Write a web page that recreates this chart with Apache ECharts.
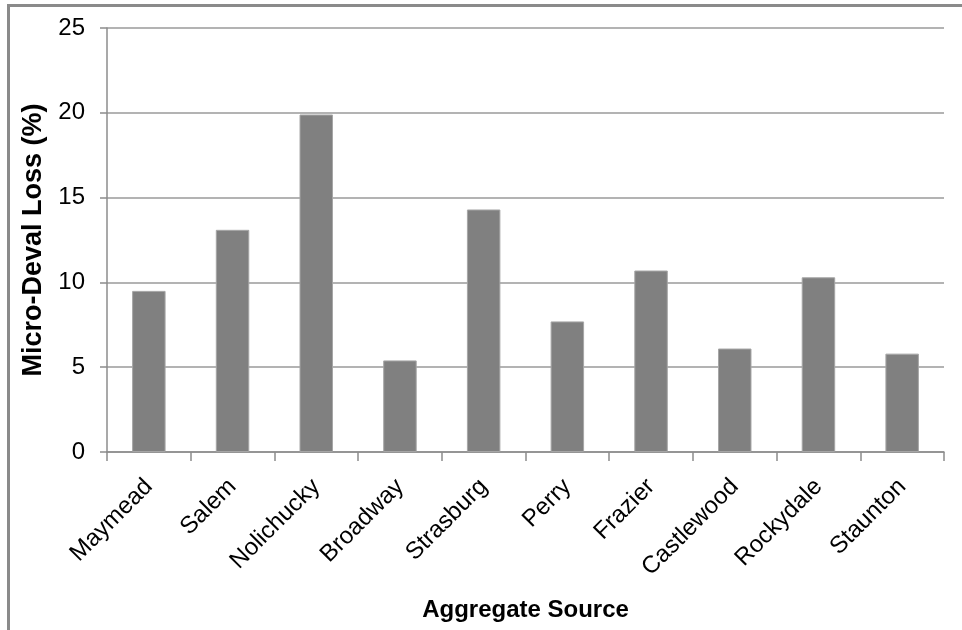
<!DOCTYPE html>
<html>
<head>
<meta charset="utf-8">
<script src="https://cdn.jsdelivr.net/npm/echarts@6/dist/echarts.min.js"></script>
<style>
  html, body { margin: 0; padding: 0; background: #fff; }
  #frame { position: absolute; left: 7px; top: 4px; width: 955px; height: 626px;
           border-left: 3px solid #8a8a8a; border-top: 3px solid #8a8a8a; box-sizing: border-box; }
  #chart { position: absolute; left: 0; top: 0; width: 962px; height: 630px; }
</style>
</head>
<body>
<div id="frame"></div>
<div id="chart"></div>
<script>
// Micro-Deval loss by aggregate source
const sources = ['Maymead', 'Salem', 'Nolichucky', 'Broadway', 'Strasburg',
                 'Perry', 'Frazier', 'Castlewood', 'Rockydale', 'Staunton'];
const lossPct = [9.5, 13.1, 19.9, 5.4, 14.3, 7.7, 10.7, 6.1, 10.3, 5.8];
const yTicks = [0, 5, 10, 15, 20, 25];

const chart = echarts.init(document.getElementById('chart'), null, { renderer: 'canvas' });
const font = 'Liberation Sans, Arial, sans-serif';

chart.setOption({
  animation: false,
  backgroundColor: 'transparent',
  grid: { left: 107, right: 18, top: 28, bottom: 178, containLabel: false },
  xAxis: {
    type: 'category',
    data: sources,
    name: 'Aggregate Source',
    nameLocation: 'middle',
    nameGap: 146,
    nameTextStyle: { fontFamily: font, fontSize: 24, fontWeight: 'bold', color: '#000' },
    axisLine: { lineStyle: { color: '#8c8c8c', width: 1.5 } },
    axisTick: { show: true, length: 9, alignWithLabel: false, lineStyle: { color: '#8c8c8c', width: 1.5 } },
    axisLabel: { rotate: 45, margin: 31, fontFamily: font, fontSize: 24, color: '#000', interval: 0 }
  },
  yAxis: {
    type: 'value',
    min: yTicks[0],
    max: yTicks[yTicks.length - 1],
    interval: 5,
    name: 'Micro-Deval Loss (%)',
    nameLocation: 'middle',
    nameGap: 51,
    nameTextStyle: { fontFamily: font, fontSize: 27, fontWeight: 'bold', color: '#000' },
    axisLine: { show: true, lineStyle: { color: '#8c8c8c', width: 1.5 } },
    axisTick: { show: true, length: 7, lineStyle: { color: '#8c8c8c', width: 1.5 } },
    axisLabel: { margin: 22, fontFamily: font, fontSize: 24, color: '#000' },
    splitLine: { show: true, lineStyle: { color: '#9a9a9a', width: 1.5 } }
  },
  series: [{
    type: 'bar',
    data: lossPct,
    barWidth: '40%',
    itemStyle: { color: '#808080', borderColor: '#a6a6a6', borderWidth: 1 }
  }]
});
</script>
</body>
</html>
